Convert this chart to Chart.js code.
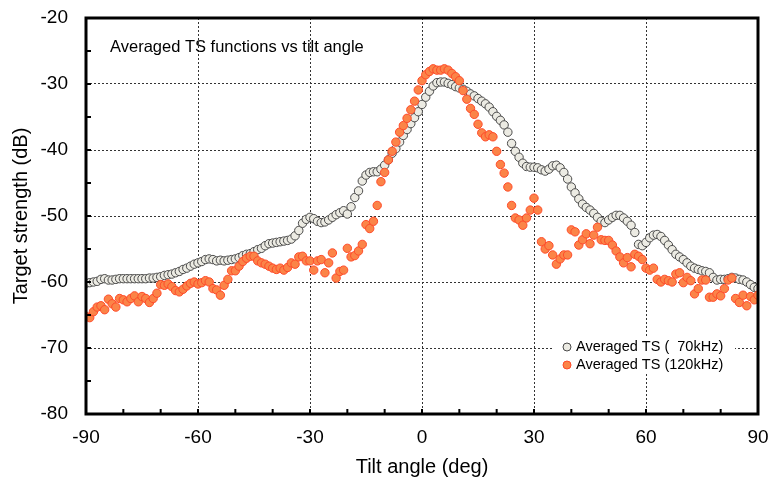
<!DOCTYPE html>
<html>
<head>
<meta charset="utf-8">
<script src="https://cdn.jsdelivr.net/npm/chart.js@4.4.0/dist/chart.umd.min.js"></script>
<style>
  html, body { margin: 0; padding: 0; background: #fff; }
  #wrap { width: 769px; height: 480px; position: relative; }
</style>
</head>
<body>
<div id="wrap"><canvas id="tsChart"></canvas></div>
<script>
// tilt angle (deg)
const angles = [
  -90, -89, -88, -87, -86, -85, -84, -83, -82, -81,
  -80, -79, -78, -77, -76, -75, -74, -73, -72, -71,
  -70, -69, -68, -67, -66, -65, -64, -63, -62, -61,
  -60, -59, -58, -57, -56, -55, -54, -53, -52, -51,
  -50, -49, -48, -47, -46, -45, -44, -43, -42, -41,
  -40, -39, -38, -37, -36, -35, -34, -33, -32, -31,
  -30, -29, -28, -27, -26, -25, -24, -23, -22, -21,
  -20, -19, -18, -17, -16, -15, -14, -13, -12, -11,
  -10, -9, -8, -7, -6, -5, -4, -3, -2, -1,
  0, 1, 2, 3, 4, 5, 6, 7, 8, 9,
  10, 11, 12, 13, 14, 15, 16, 17, 18, 19,
  20, 21, 22, 23, 24, 25, 26, 27, 28, 29,
  30, 31, 32, 33, 34, 35, 36, 37, 38, 39,
  40, 41, 42, 43, 44, 45, 46, 47, 48, 49,
  50, 51, 52, 53, 54, 55, 56, 57, 58, 59,
  60, 61, 62, 63, 64, 65, 66, 67, 68, 69,
  70, 71, 72, 73, 74, 75, 76, 77, 78, 79,
  80, 81, 82, 83, 84, 85, 86, 87, 88, 89,
  90
];

// averaged TS, 70 kHz (dB)
const ts70 = [
  -60.2, -60.1, -60.0, -59.9, -59.6, -59.5, -59.7, -59.7, -59.6, -59.5,
  -59.5, -59.5, -59.5, -59.5, -59.5, -59.5, -59.5, -59.4, -59.4, -59.3,
  -59.2, -59.0, -58.9, -58.8, -58.6, -58.4, -58.1, -57.9, -57.6, -57.3,
  -57.1, -56.9, -56.6, -56.5, -56.6, -56.8, -56.7, -56.8, -56.7, -56.6,
  -56.5, -56.3, -56.0, -55.8, -55.7, -55.4, -55.1, -54.9, -54.5, -54.2,
  -54.1, -54.0, -53.9, -53.8, -53.7, -53.5, -53.0, -52.2, -51.1, -50.5,
  -50.2, -50.4, -50.8, -51.0, -50.9, -50.6, -50.2, -49.8, -49.5, -49.2,
  -49.7, -48.6, -47.2, -46.2, -44.7, -43.8, -43.4, -43.3, -43.3, -42.9,
  -42.3, -41.5, -40.5, -39.8, -38.8, -37.8, -36.9, -36.0, -35.1, -34.2,
  -33.1, -32.0, -31.1, -30.3, -29.8, -29.7, -29.7, -29.9, -30.1, -30.4,
  -30.6, -30.8, -31.1, -31.5, -31.8, -32.2, -32.6, -33.0, -33.5, -34.2,
  -34.9, -35.5, -36.2, -37.3, -39.0, -40.2, -41.1, -42.0, -42.5, -42.6,
  -42.6, -42.7, -43.0, -43.2, -42.9, -42.4, -42.3, -42.7, -43.4, -44.4,
  -45.6, -46.5, -47.4, -48.2, -48.7, -49.1, -49.6, -50.2, -50.8, -51.0,
  -50.6, -50.2, -49.9, -49.9, -50.3, -50.8, -51.4, -52.5, -54.3, -54.5,
  -54.0, -53.3, -52.9, -52.8, -53.1, -53.7, -54.4, -55.1, -55.8, -56.2,
  -56.6, -57.1, -57.6, -57.9, -58.1, -58.3, -58.4, -58.6, -59.3, -59.7,
  -59.6, -59.6, -59.5, -59.3, -59.4, -59.6, -59.7, -60.0, -60.4, -60.8,
  -61.0
];

// averaged TS, 120 kHz (dB)
const ts120 = [
  -65.2, -65.4, -64.5, -63.8, -63.6, -64.2, -62.6, -63.3, -63.8, -62.5,
  -62.7, -63.0, -62.5, -62.1, -63.0, -62.2, -62.5, -63.1, -62.5, -61.7,
  -60.4, -60.5, -60.3, -60.7, -61.3, -61.5, -61.1, -60.6, -60.2, -60.0,
  -60.3, -60.1, -59.8, -60.0, -61.0, -61.2, -62.0, -60.5, -59.6, -58.3,
  -58.3, -57.6, -56.9, -56.4, -56.1, -56.1, -56.8, -57.1, -57.3, -57.6,
  -57.9, -58.1, -57.9, -58.2, -57.8, -57.1, -57.3, -56.2, -56.1, -56.8,
  -56.8, -58.2, -56.8, -56.6, -58.6, -57.1, -55.6, -59.4, -58.4, -58.2,
  -54.9, -56.2, -56.0, -55.3, -54.3, -51.3, -51.9, -50.8, -48.4, -44.8,
  -43.4, -41.5, -40.2, -38.8, -37.3, -36.3, -35.2, -33.9, -32.6, -30.9,
  -29.5, -28.6, -28.1, -27.7, -27.9, -27.9, -27.7, -27.9, -28.4, -28.9,
  -29.5, -31.0, -32.3, -33.7, -34.6, -36.1, -37.4, -38.0, -37.7, -38.0,
  -40.2, -42.2, -43.5, -45.6, -48.4, -50.3, -50.6, -51.4, -50.3, -49.1,
  -47.3, -49.1, -53.9, -55.0, -54.5, -55.9, -57.3, -56.5, -55.9, -55.9,
  -52.1, -52.4, -54.4, -53.6, -52.7, -54.2, -52.9, -51.7, -53.6, -53.7,
  -53.7, -54.4, -55.3, -56.2, -57.1, -56.3, -57.7, -55.8, -56.1, -56.6,
  -57.9, -58.2, -57.9, -59.6, -60.0, -59.6, -59.8, -60.0, -58.8, -58.6,
  -60.1, -59.3, -59.8, -61.8, -61.0, -59.7, -59.7, -62.3, -62.3, -61.8,
  -62.1, -61.0, -59.7, -59.4, -62.5, -63.1, -62.0, -63.6, -62.2, -62.7,
  -62.0
];

const xTickLabels = [-90, -60, -30, 0, 30, 60, 90];
const yTickLabels = [-80, -70, -60, -50, -40, -30, -20];
const seriesNames = ['Averaged TS (  70kHz)', 'Averaged TS (120kHz)'];
const chartTitle = 'Averaged TS functions vs tilt angle';

const FONT = '"Liberation Sans", Arial, sans-serif';
const GRAY_FILL = '#ecebe3';
const GRAY_LINE = '#4a4a4a';
const ORANGE_FILL = '#fb8448';
const ORANGE_LINE = '#ff4a2a';

function toPoints(xs, ys) {
  const out = [];
  for (let i = 0; i < xs.length && i < ys.length; i++) {
    out.push({x: xs[i], y: ys[i]});
  }
  return out;
}

// frame, inward ticks, inner title and legend
const framePlugin = {
  id: 'frame',
  afterDatasetsDraw(chart) {
    const ctx = chart.ctx;
    const a = chart.chartArea;
    const xs = chart.scales.x;
    const ys = chart.scales.y;
    ctx.save();

    ctx.strokeStyle = '#000';
    ctx.lineWidth = 2;
    for (const t of xs.ticks) {
      const px = xs.getPixelForValue(t.value);
      ctx.beginPath();
      ctx.moveTo(px, a.bottom);
      ctx.lineTo(px, a.bottom - 5);
      ctx.stroke();
    }
    for (const t of ys.ticks) {
      const py = ys.getPixelForValue(t.value);
      ctx.beginPath();
      ctx.moveTo(a.left, py);
      ctx.lineTo(a.left + 5, py);
      ctx.stroke();
    }

    ctx.lineWidth = 3;
    ctx.strokeRect(a.left, a.top, a.right - a.left, a.bottom - a.top);

    ctx.fillStyle = '#000';
    ctx.font = '16.5px ' + FONT;
    ctx.textBaseline = 'middle';
    ctx.textAlign = 'left';
    ctx.fillText(chartTitle, a.left + 24, a.top + 29);

    // legend box
    const bx = a.right - 205;
    const by = a.bottom - 77;
    ctx.fillStyle = '#fff';
    ctx.fillRect(bx, by, 182, 37);
    const rows = [[GRAY_FILL, GRAY_LINE], [ORANGE_FILL, ORANGE_LINE]];
    ctx.font = '14.5px ' + FONT;
    for (let i = 0; i < rows.length; i++) {
      const cy = by + 10 + i * 18;
      ctx.beginPath();
      ctx.arc(bx + 14, cy, 4, 0, Math.PI * 2);
      ctx.fillStyle = rows[i][0];
      ctx.fill();
      ctx.lineWidth = 1;
      ctx.strokeStyle = rows[i][1];
      ctx.stroke();
      ctx.fillStyle = '#000';
      ctx.fillText(seriesNames[i], bx + 23, cy);
    }
    ctx.restore();
  }
};

function gridColor(list, lo, hi) {
  return (c) => {
    const v = c.tick ? c.tick.value : null;
    if (v === lo || v === hi) return 'rgba(0,0,0,0)';
    return list.includes(v) ? '#333' : 'rgba(0,0,0,0)';
  };
}

window.addEventListener('load', () => {
  Chart.defaults.font.family = FONT;
  Chart.defaults.color = '#000';
  const ctx = document.querySelector('#tsChart').getContext('2d');
  new Chart(ctx, {
    type: 'scatter',
    data: {
      datasets: [
        {
          label: seriesNames[1],
          data: toPoints(angles, ts120),
          backgroundColor: ORANGE_FILL,
          borderColor: ORANGE_LINE,
          borderWidth: 1,
          pointRadius: 4.2,
          order: 0,
        },
        {
          label: seriesNames[0],
          data: toPoints(angles, ts70),
          backgroundColor: GRAY_FILL,
          borderColor: GRAY_LINE,
          borderWidth: 1,
          pointRadius: 4.2,
          order: 1,
        },
      ],
    },
    options: {
      responsive: true,
      maintainAspectRatio: false,
      animation: false,
      layout: { padding: { left: 0, right: 11, top: 18, bottom: 0 } },
      plugins: {
        legend: { display: false },
        tooltip: { enabled: false },
      },
      scales: {
        x: {
          type: 'linear',
          min: -90,
          max: 90,
          afterFit: (s) => { s.height = 66; s.paddingLeft = 0; s.paddingRight = 0; },
          ticks: {
            stepSize: 10,
            autoSkip: false,
            maxRotation: 0,
            padding: 12,
            font: { size: 19 },
            callback: (v) => xTickLabels.includes(v) ? String(v) : '',
          },
          grid: { drawTicks: false, color: gridColor(xTickLabels, -90, 90), lineWidth: 1 },
          border: { display: false, dash: [2, 2] },
          title: { display: true, text: 'Tilt angle (deg)', font: { size: 20 }, padding: { top: 0, bottom: 1 } },
        },
        y: {
          min: -80,
          max: -20,
          afterFit: (s) => { s.width = 86; s.paddingTop = 0; s.paddingBottom = 0; },
          ticks: {
            stepSize: 5,
            autoSkip: false,
            padding: 18,
            font: { size: 19 },
            callback: (v) => yTickLabels.includes(v) ? String(v) : '',
          },
          grid: { drawTicks: false, color: gridColor(yTickLabels, -80, -20), lineWidth: 1 },
          border: { display: false, dash: [2, 2] },
          title: { display: true, text: 'Target strength (dB)', font: { size: 20 }, padding: { top: 9, bottom: 0 } },
        },
      },
    },
    plugins: [framePlugin],
  });
});
</script>
</body>
</html>
